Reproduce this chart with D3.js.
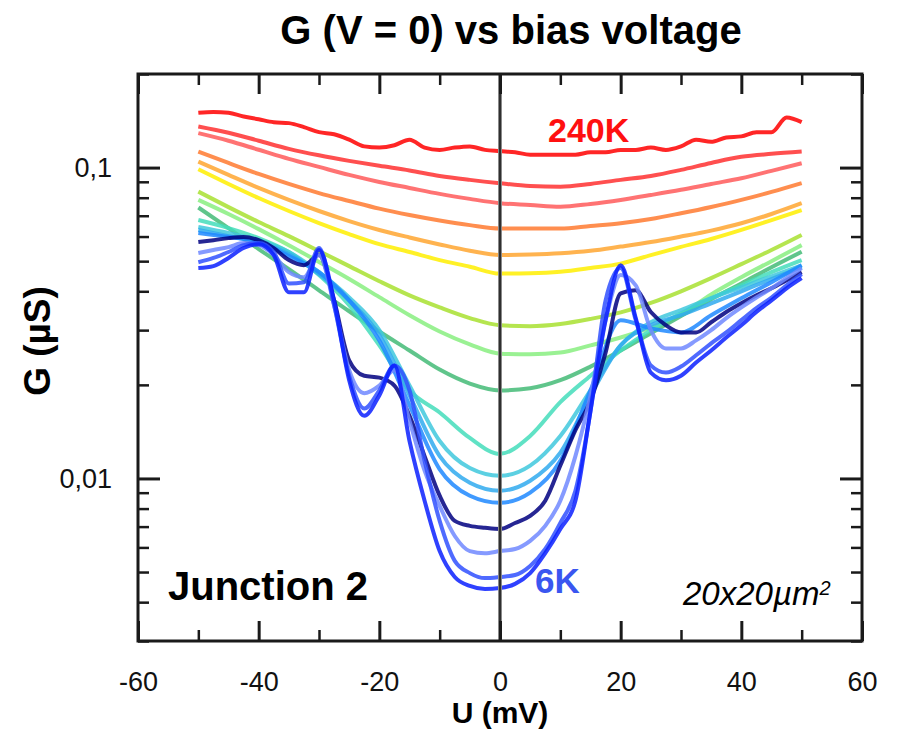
<!DOCTYPE html>
<html>
<head>
<meta charset="utf-8">
<script src="https://cdn.jsdelivr.net/npm/d3@7/dist/d3.min.js"></script>
<style>
  body { margin: 0; background: #fff; }
  svg text { font-family: 'Liberation Sans', Arial, sans-serif; }
</style>
</head>
<body>
<svg id="chart" width="897" height="731"></svg>
<script>
// bias voltage grids (mV)
const biasCoarse = [-50, -45, -40, -35, -30, -25, -20, -15, -10, -5, 0, 5, 10, 15, 20, 25, 30, 35, 40, 45, 50];
const biasFine = [-50, -47.5, -45, -42.5, -40, -37.5, -35, -32.5, -30, -27.5, -25, -22.5, -20, -17.5, -15, -12.5, -10, -7.5, -5, -2.5, 0,
  2.5, 5, 7.5, 10, 12.5, 15, 17.5, 20, 22.5, 25, 27.5, 30, 32.5, 35, 37.5, 40, 42.5, 45, 47.5, 50];

// G (µS), hottest (240K) to coldest (6K)
const g240K = [0.150, 0.151, 0.150, 0.146, 0.143, 0.140, 0.139, 0.135, 0.130, 0.128, 0.123, 0.117, 0.116, 0.118, 0.123, 0.116, 0.114, 0.116, 0.117, 0.114, 0.113,
  0.112, 0.110, 0.110, 0.110, 0.110, 0.112, 0.112, 0.114, 0.114, 0.116, 0.114, 0.117, 0.123, 0.121, 0.125, 0.126, 0.130, 0.130, 0.145, 0.140];
const gRed = [0.1356, 0.1294, 0.1220, 0.1149, 0.1095, 0.1051, 0.1013, 0.0979, 0.0940, 0.0913, 0.0891, 0.0873, 0.0868, 0.0886, 0.0913, 0.0940, 0.0983, 0.1035, 0.1083, 0.1107, 0.1126];
const gSalmon = [0.1291, 0.1220, 0.1141, 0.1067, 0.1005, 0.0947, 0.0899, 0.0860, 0.0823, 0.0793, 0.0768, 0.0758, 0.0748, 0.0764, 0.0787, 0.0816, 0.0848, 0.0886, 0.0924, 0.0976, 0.1033];
const gOrange = [0.1126, 0.1035, 0.0954, 0.0886, 0.0828, 0.0781, 0.0738, 0.0704, 0.0676, 0.0653, 0.0637, 0.0637, 0.0637, 0.0649, 0.0662, 0.0683, 0.0713, 0.0747, 0.0787, 0.0835, 0.0891];
const gAmber = [0.1045, 0.0947, 0.0860, 0.0787, 0.0725, 0.0673, 0.0630, 0.0596, 0.0566, 0.0540, 0.0523, 0.0525, 0.0530, 0.0540, 0.0557, 0.0576, 0.0600, 0.0627, 0.0662, 0.0709, 0.0768];
const gYellow = [0.0988, 0.0886, 0.0798, 0.0725, 0.0663, 0.0611, 0.0567, 0.0535, 0.0504, 0.0480, 0.0456, 0.0457, 0.0462, 0.0475, 0.0491, 0.0523, 0.0556, 0.0589, 0.0630, 0.0678, 0.0730];
const gLime = [0.0837, 0.0746, 0.0668, 0.0602, 0.0539, 0.0482, 0.0431, 0.0388, 0.0355, 0.0328, 0.0311, 0.0309, 0.0314, 0.0326, 0.0342, 0.0367, 0.0400, 0.0441, 0.0489, 0.0543, 0.0607];
const gLightGreen = [0.0787, 0.0709, 0.0634, 0.0563, 0.0497, 0.0438, 0.0383, 0.0335, 0.0297, 0.0270, 0.0252, 0.0251, 0.0254, 0.0268, 0.0284, 0.0306, 0.0337, 0.0391, 0.0444, 0.0500, 0.0563];
const gGreen = [0.0744, 0.0639, 0.0547, 0.0471, 0.0403, 0.0345, 0.0297, 0.0258, 0.0224, 0.0202, 0.0192, 0.0195, 0.0207, 0.0229, 0.0258, 0.0293, 0.0333, 0.0377, 0.0424, 0.0478, 0.0536];
const gTurquoise = [0.0678, 0.0639, 0.0593, 0.0535, 0.0451, 0.0361, 0.0268, 0.0192, 0.0163, 0.0135, 0.0120, 0.0137, 0.0176, 0.0214, 0.0258, 0.0300, 0.0340, 0.0380, 0.0418, 0.0461, 0.0504];
const gCyan = [0.0644, 0.0616, 0.0584, 0.0535, 0.0461, 0.0382, 0.0300, 0.0199, 0.0132, 0.0108, 0.0102, 0.0110, 0.0137, 0.0192, 0.0268, 0.0318, 0.0348, 0.0380, 0.0412, 0.0447, 0.0485];
const gSky = [0.0630, 0.0602, 0.0576, 0.0527, 0.0454, 0.0374, 0.0289, 0.0185, 0.0118, 0.00969, 0.00913, 0.00983, 0.0121, 0.0185, 0.0268, 0.0311, 0.0335, 0.0366, 0.0400, 0.0438, 0.0478];
const gDodger = [0.0616, 0.0598, 0.0576, 0.0519, 0.0461, 0.0374, 0.0278, 0.0172, 0.0107, 0.00880, 0.00835, 0.00900, 0.0114, 0.0192, 0.0323, 0.0304, 0.0295, 0.0335, 0.0380, 0.0428, 0.0485];
const gNavy = [0.0576, 0.0584, 0.0593, 0.0598, 0.0584, 0.0551, 0.0504, 0.0485, 0.0523, 0.0374, 0.0240, 0.0214, 0.0211, 0.0199, 0.0159, 0.0118, 0.00880, 0.00730, 0.00704, 0.00694, 0.00688,
  0.00719, 0.00758, 0.00848, 0.0110, 0.0143, 0.0178, 0.0254, 0.0394, 0.0403, 0.0343, 0.0311, 0.0295, 0.0295, 0.0318, 0.0343, 0.0366, 0.0388, 0.0409, 0.0434, 0.0461];
const gPeriwinkle = [0.0531, 0.0543, 0.0555, 0.0572, 0.0563, 0.0523, 0.0461, 0.0444, 0.0523, 0.0361, 0.0223, 0.0188, 0.0199, 0.0223, 0.0153, 0.0106, 0.00816, 0.00653, 0.00584, 0.00575, 0.00584,
  0.00593, 0.00630, 0.00704, 0.00848, 0.0118, 0.0185, 0.0323, 0.0451, 0.0418, 0.0300, 0.0262, 0.0262, 0.0278, 0.0300, 0.0328, 0.0355, 0.0382, 0.0409, 0.0441, 0.0475];
const gRoyal = [0.0496, 0.0512, 0.0535, 0.0563, 0.0572, 0.0535, 0.0424, 0.0428, 0.0551, 0.0361, 0.0214, 0.0168, 0.0192, 0.0231, 0.0192, 0.0114, 0.00730, 0.00543, 0.00496, 0.00478, 0.00482,
  0.00489, 0.00523, 0.00593, 0.00719, 0.00913, 0.0165, 0.0374, 0.0475, 0.0323, 0.0231, 0.0219, 0.0229, 0.0249, 0.0272, 0.0295, 0.0323, 0.0353, 0.0382, 0.0418, 0.0454];
const g6K = [0.0475, 0.0482, 0.0512, 0.0551, 0.0567, 0.0523, 0.0397, 0.0397, 0.0543, 0.0374, 0.0207, 0.0159, 0.0185, 0.0231, 0.0132, 0.00848, 0.00584, 0.00482, 0.00451, 0.00441, 0.00444,
  0.00458, 0.00496, 0.00575, 0.00688, 0.00848, 0.0165, 0.0323, 0.0485, 0.0328, 0.0219, 0.0207, 0.0214, 0.0236, 0.0258, 0.0284, 0.0311, 0.0343, 0.0374, 0.0409, 0.0441];

const curveColors = ['#ff0000', '#ff3030', '#ff5a5a', '#ff7a30', '#ffa630', '#ffee00', '#a8e030', '#88ee80',
  '#44bb77', '#44ddbb', '#40c8dd', '#30aaee', '#1e88ff', '#000080', '#7088ff', '#3050ff', '#0a20ff'];

const xTicks = [-60, -40, -20, 0, 20, 40, 60];
const xMinorTicks = [-50, -30, -10, 10, 30, 50];
const yTicks = [0.01, 0.1];
const yTickLabels = ['0,01', '0,1'];
const yMinorTicks = [0.003, 0.004, 0.005, 0.006, 0.007, 0.008, 0.009, 0.02, 0.03, 0.04, 0.05, 0.06, 0.07, 0.08, 0.09, 0.2];

const series = [
  [biasFine, g240K], [biasCoarse, gRed], [biasCoarse, gSalmon], [biasCoarse, gOrange], [biasCoarse, gAmber],
  [biasCoarse, gYellow], [biasCoarse, gLime], [biasCoarse, gLightGreen], [biasCoarse, gGreen], [biasCoarse, gTurquoise],
  [biasCoarse, gCyan], [biasCoarse, gSky], [biasCoarse, gDodger], [biasFine, gNavy], [biasFine, gPeriwinkle],
  [biasFine, gRoyal], [biasFine, g6K]
].map(([u, g], i) => ({ color: curveColors[i], points: u.map((v, k) => [v, g[k]]) }));

const W = 897, H = 731;
const plot = { left: 138, right: 862, top: 74, bottom: 641 };

const svg = d3.select('#chart');
svg.append('rect').attr('width', W).attr('height', H).attr('fill', '#fff');

const x = d3.scaleLinear().domain([-60, 60]).range([plot.left, plot.right]);
const y = d3.scaleLog().domain([0.003, 0.2]).range([plot.bottom, plot.top]);

svg.append('clipPath').attr('id', 'clip')
  .append('rect')
  .attr('x', plot.left).attr('y', plot.top)
  .attr('width', plot.right - plot.left).attr('height', plot.bottom - plot.top);

// curves
const line = d3.line()
  .x((d) => x(d[0]))
  .y((d) => y(d[1]))
  .curve(d3.curveMonotoneX);

svg.append('g')
  .attr('clip-path', 'url(#clip)')
  .selectAll('path')
  .data(series)
  .join('path')
  .attr('d', (d) => line(d.points))
  .attr('fill', 'none')
  .attr('stroke', (d) => d.color)
  .attr('stroke-opacity', 0.85)
  .attr('stroke-width', 4)
  .attr('stroke-linejoin', 'round');

// zero-bias line
svg.append('line')
  .attr('x1', x(0)).attr('x2', x(0))
  .attr('y1', plot.top).attr('y2', plot.bottom)
  .attr('stroke', '#8a8a8a').attr('stroke-width', 4);
svg.append('line')
  .attr('x1', x(0)).attr('x2', x(0))
  .attr('y1', plot.top).attr('y2', plot.bottom)
  .attr('stroke', '#111').attr('stroke-width', 1.5);

// axes (inward ticks on all four sides)
function styleAxis(g, width) {
  g.select('.domain').remove();
  g.selectAll('.tick line').attr('stroke', '#1a1a1a').attr('stroke-width', width);
  g.selectAll('.tick text')
    .attr('fill', '#111')
    .attr('font-size', 27)
    .attr('font-family', "'Liberation Sans', Arial, sans-serif");
}

svg.append('g')
  .attr('transform', `translate(0,${plot.bottom})`)
  .call(d3.axisBottom(x).tickValues(xTicks).tickSize(-20).tickSizeOuter(0).tickPadding(31)
    .tickFormat((d) => String(d)))
  .call((g) => styleAxis(g, 3));
svg.append('g')
  .attr('transform', `translate(0,${plot.bottom})`)
  .call(d3.axisBottom(x).tickValues(xMinorTicks).tickSize(-11).tickSizeOuter(0).tickFormat(''))
  .call((g) => styleAxis(g, 2.5));
svg.append('g')
  .attr('transform', `translate(0,${plot.top})`)
  .call(d3.axisTop(x).tickValues(xTicks).tickSize(-20).tickSizeOuter(0).tickFormat(''))
  .call((g) => styleAxis(g, 3));
svg.append('g')
  .attr('transform', `translate(0,${plot.top})`)
  .call(d3.axisTop(x).tickValues(xMinorTicks).tickSize(-11).tickSizeOuter(0).tickFormat(''))
  .call((g) => styleAxis(g, 2.5));

svg.append('g')
  .attr('transform', `translate(${plot.left},0)`)
  .call(d3.axisLeft(y).tickValues(yTicks).tickSize(-22).tickSizeOuter(0).tickPadding(26)
    .tickFormat((d, i) => yTickLabels[i]))
  .call((g) => styleAxis(g, 3));
svg.append('g')
  .attr('transform', `translate(${plot.left},0)`)
  .call(d3.axisLeft(y).tickValues(yMinorTicks).tickSize(-11).tickSizeOuter(0).tickFormat(''))
  .call((g) => styleAxis(g, 2.5));
svg.append('g')
  .attr('transform', `translate(${plot.right},0)`)
  .call(d3.axisRight(y).tickValues(yTicks).tickSize(-22).tickSizeOuter(0).tickFormat(''))
  .call((g) => styleAxis(g, 3));
svg.append('g')
  .attr('transform', `translate(${plot.right},0)`)
  .call(d3.axisRight(y).tickValues(yMinorTicks).tickSize(-11).tickSizeOuter(0).tickFormat(''))
  .call((g) => styleAxis(g, 2.5));

// frame
svg.append('rect')
  .attr('x', plot.left).attr('y', plot.top)
  .attr('width', plot.right - plot.left).attr('height', plot.bottom - plot.top)
  .attr('fill', 'none').attr('stroke', '#1a1a1a').attr('stroke-width', 3);

// titles and annotations
svg.append('text')
  .attr('x', 511).attr('y', 44)
  .attr('text-anchor', 'middle')
  .attr('font-size', 40).attr('font-weight', 'bold').attr('fill', '#000')
  .text('G (V = 0) vs bias voltage');

svg.append('text')
  .attr('transform', 'translate(50,341) rotate(-90)')
  .attr('text-anchor', 'middle')
  .attr('font-size', 37).attr('font-weight', 'bold').attr('fill', '#000')
  .text('G (µS)');

svg.append('text')
  .attr('x', x(0)).attr('y', 723)
  .attr('text-anchor', 'middle')
  .attr('font-size', 30).attr('font-weight', 'bold').attr('fill', '#000')
  .text('U (mV)');

svg.append('text')
  .attr('x', 168).attr('y', 600)
  .attr('font-size', 40).attr('font-weight', 'bold').attr('fill', '#000')
  .text('Junction 2');

svg.append('text')
  .attr('x', 548).attr('y', 142)
  .attr('font-size', 34).attr('font-weight', 'bold').attr('fill', '#ff1010')
  .text('240K');

svg.append('text')
  .attr('x', 535).attr('y', 593)
  .attr('font-size', 35).attr('font-weight', 'bold').attr('fill', '#3a56f0')
  .text('6K');

const area = svg.append('text')
  .attr('x', 683).attr('y', 605)
  .attr('font-family', "'Open Sans', sans-serif")
  .attr('font-style', 'italic')
  .attr('font-size', 33).attr('fill', '#000');
area.append('tspan').text('20x20µm');
area.append('tspan').attr('dy', -10).attr('font-size', 20).text('2');
</script>
</body>
</html>
